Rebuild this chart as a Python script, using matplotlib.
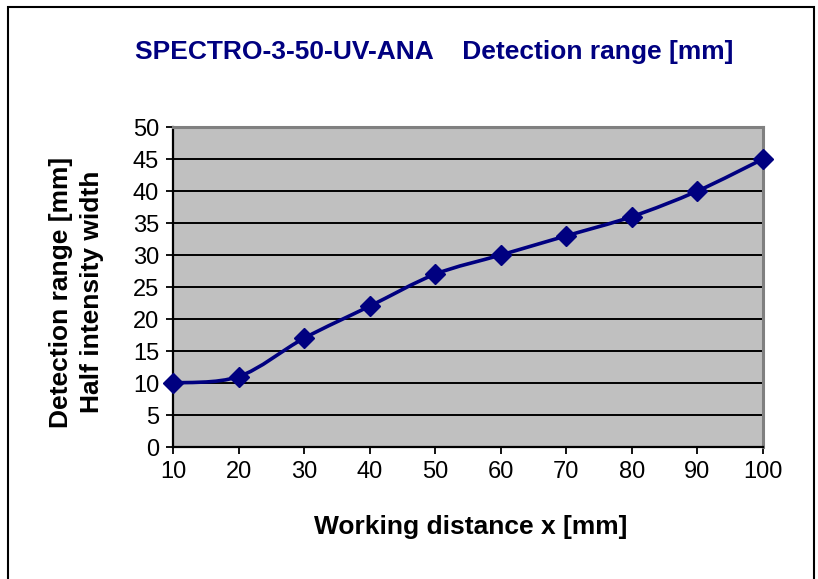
import numpy as np
import matplotlib.pyplot as plt
from matplotlib.path import Path
from matplotlib.patches import PathPatch, Rectangle

plt.rcParams['font.family'] = ['Liberation Sans', 'DejaVu Sans']

# data
distance = [10, 20, 30, 40, 50, 60, 70, 80, 90, 100]
width = [10, 11, 17, 22, 27, 30, 33, 36, 40, 45]
y_ticks = [0, 5, 10, 15, 20, 25, 30, 35, 40, 45, 50]

navy = '#000080'

W, H = 818, 579
fig = plt.figure(figsize=(W / 100, H / 100), dpi=100)
ax = fig.add_axes([173 / W, 1 - 447 / H, (763 - 173) / W, (447 - 127) / H])
ax.set_facecolor('#c0c0c0')

# Excel-like smoothed line: bezier segments through the points
x = np.array(distance, float)
y = np.array(width, float)
verts = [(x[0], y[0])]
codes = [Path.MOVETO]
n = len(x)
for i in range(n - 1):
    p0 = (x[max(i - 1, 0)], y[max(i - 1, 0)])
    p1 = (x[i], y[i])
    p2 = (x[i + 1], y[i + 1])
    p3 = (x[min(i + 2, n - 1)], y[min(i + 2, n - 1)])
    c1 = (p1[0] + (p2[0] - p0[0]) / 6, p1[1] + (p2[1] - p0[1]) / 6)
    c2 = (p2[0] - (p3[0] - p1[0]) / 6, p2[1] - (p3[1] - p1[1]) / 6)
    verts += [c1, c2, p2]
    codes += [Path.CURVE4] * 3
ax.add_patch(PathPatch(Path(verts, codes), facecolor='none', edgecolor=navy,
                       lw=2.6, zorder=3, clip_on=False))
ax.plot(distance, width, linestyle='none', marker='D', ms=10.5, color=navy,
        zorder=4, clip_on=False)

ax.set_xlim(10, 100)
ax.set_ylim(0, 50)
ax.set_xticks(distance)
ax.set_yticks(y_ticks)
ax.yaxis.grid(True, color='black', lw=1.4)
ax.set_axisbelow(True)
ax.tick_params(labelsize=17, length=5, width=1.3, direction='out', pad=5)
for s in ['top', 'right']:
    ax.spines[s].set_color('#808080')
    ax.spines[s].set_linewidth(2.2)
for s in ['left', 'bottom']:
    ax.spines[s].set_color('black')
    ax.spines[s].set_linewidth(1.6)

fig.text(434 / W, 1 - 52 / H, 'SPECTRO-3-50-UV-ANA    Detection range [mm]',
         ha='center', va='center', fontsize=19, fontweight='bold', color=navy)
fig.text(471 / W, 1 - 527 / H, 'Working distance x [mm]', ha='center',
         va='center', fontsize=19, fontweight='bold')
fig.text(61 / W, 1 - 292 / H, 'Detection range [mm]', ha='center', va='center',
         rotation=90, fontsize=19, fontweight='bold')
fig.text(92 / W, 1 - 292 / H, 'Half intensity width', ha='center', va='center',
         rotation=90, fontsize=19, fontweight='bold')

fig.patches.append(Rectangle((8 / W, -0.05), (814 - 8) / W, 1.05 - 7 / H,
                             transform=fig.transFigure, fill=False,
                             edgecolor='black', lw=1.5))

fig.savefig('out.png', dpi=100)
